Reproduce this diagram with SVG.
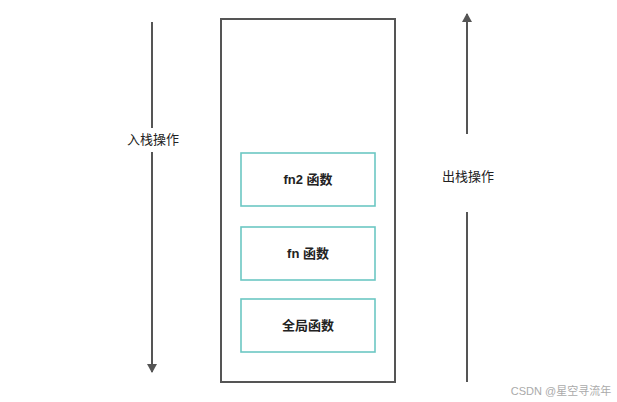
<svg xmlns="http://www.w3.org/2000/svg" width="617" height="402" viewBox="0 0 617 402">
<style>
.lbl{font-family:"Liberation Sans","Noto Sans CJK SC",sans-serif;font-size:13px;fill:#222;text-anchor:middle;font-weight:bold}
.box{fill:#fff;stroke:#6cc7c3;stroke-width:1.6}
.ln{stroke:#555;stroke-width:2;fill:none}
</style>
<defs><marker id="ah" markerWidth="10" markerHeight="10" refX="8" refY="5" orient="auto" markerUnits="userSpaceOnUse"><path d="M0,0L9,5L0,10z" fill="#555"/></marker></defs>
<rect width="617" height="402" fill="#fff"/>
<g id="stack"><rect x="221" y="19" width="174" height="363" fill="#fff" stroke="#555" stroke-width="2"/></g>
<g id="fn2"><rect class="box" x="241" y="153" width="134" height="53"/><text class="lbl" x="308" y="184">fn2 函数</text></g>
<g id="fn"><rect class="box" x="241" y="227" width="134" height="53"/><text class="lbl" x="308" y="258">fn 函数</text></g>
<g id="global"><rect class="box" x="241" y="299" width="134" height="53"/><text class="lbl" x="308" y="330">全局函数</text></g>
<g id="connectors">
<line class="ln" x1="152" y1="22" x2="152" y2="128"/>
<line class="ln" x1="152" y1="152" x2="152" y2="372" marker-end="url(#ah)"/>
<line class="ln" x1="467" y1="382" x2="467" y2="212"/>
<line class="ln" x1="467" y1="134" x2="467" y2="14" marker-end="url(#ah)"/>
</g>
<text class="lbl" x="153" y="144" style="font-weight:normal">入栈操作</text>
<text class="lbl" x="468" y="181" style="font-weight:normal">出栈操作</text>
<text x="561" y="395" style="font-family:'Liberation Sans','Noto Sans CJK SC',sans-serif;font-size:11px;fill:#aaa;text-anchor:middle">CSDN @星空寻流年</text>
</svg>
